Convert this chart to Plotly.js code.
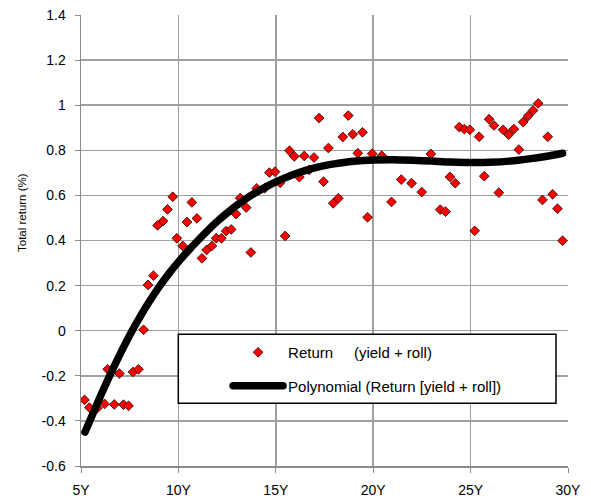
<!DOCTYPE html>
<html>
<head>
<meta charset="utf-8">
<script src="https://cdn.plot.ly/plotly-3.0.1.min.js"></script>
<style>
html,body{margin:0;padding:0;background:#fff;}
#chart{width:591px;height:501px;}
.scatterlayer .js-line, .legendlines path{stroke-linecap:round;}
</style>
</head>
<body>
<div id="chart"></div>
<script>
// Maturity (years) and total return (%) of each bond
const maturity = [5.18,5.43,5.84,6.21,6.37,6.71,6.97,7.18,7.44,7.67,
  7.95,8.21,8.44,8.72,8.93,9.21,9.44,9.71,9.92,10.22,
  10.44,10.69,10.95,11.21,11.45,11.72,11.94,12.21,12.45,12.71,
  12.96,13.17,13.48,13.72,14.02,14.43,14.67,14.96,15.22,15.48,
  15.70,15.95,16.21,16.46,16.71,16.96,17.22,17.45,17.70,17.95,
  18.21,18.44,18.72,18.95,19.21,19.45,19.71,19.95,20.44,20.94,
  21.44,21.97,22.49,22.96,23.44,23.71,23.94,24.21,24.42,24.68,
  24.96,25.21,25.44,25.70,25.95,26.20,26.45,26.67,26.95,27.22,
  27.48,27.70,27.95,28.21,28.47,28.69,28.96,29.21,29.46,29.72];
const totalReturn = [-0.307,-0.341,-0.343,-0.325,-0.171,-0.327,-0.190,-0.328,-0.333,-0.183,
  -0.171,0.004,0.203,0.244,0.467,0.486,0.538,0.594,0.410,0.376,
  0.482,0.569,0.498,0.321,0.358,0.376,0.410,0.410,0.442,0.449,
  0.517,0.588,0.546,0.347,0.631,0.632,0.701,0.705,0.656,0.420,
  0.798,0.773,0.681,0.775,0.713,0.768,0.943,0.661,0.810,0.565,
  0.587,0.859,0.954,0.871,0.787,0.880,0.503,0.785,0.776,0.571,
  0.670,0.654,0.615,0.784,0.537,0.528,0.682,0.654,0.903,0.894,
  0.891,0.443,0.860,0.685,0.938,0.910,0.612,0.891,0.869,0.894,
  0.803,0.925,0.952,0.977,1.008,0.580,0.860,0.605,0.541,0.399];

// Polynomial trendline
const trendX = [5.2,5.5,6,6.5,7,7.5,8,8.5,9,9.5,10,10.5,11,11.5,12,12.5,13,13.5,14,14.5,15,15.5,16,16.5,17,17.5,18,18.5,19,19.5,20,21,22,23,24,25,26,27,28,29,29.72];
const trendY = [-0.45,-0.39,-0.29,-0.195,-0.105,-0.02,0.057,0.128,0.193,0.252,0.305,0.354,0.40,0.444,0.485,0.522,0.556,0.587,0.614,0.638,0.66,0.679,0.696,0.71,0.722,0.732,0.74,0.746,0.751,0.755,0.757,0.758,0.756,0.752,0.748,0.746,0.747,0.752,0.762,0.775,0.787];

// Axis ticks
const xTickVals = [5,10,15,20,25,30];
const xTickText = ['5Y','10Y','15Y','20Y','25Y','30Y'];
const yTickVals = [-0.6,-0.4,-0.2,0,0.2,0.4,0.6,0.8,1,1.2,1.4];
const yTickText = ['-0.6','-0.4','-0.2','0','0.2','0.4','0.6','0.8','1','1.2','1.4'];

const seriesNames = ['Return\u00a0\u00a0\u00a0\u00a0\u00a0(yield + roll)', 'Polynomial (Return [yield + roll])'];
const yTitle = 'Total return (%)';

const FONT = 'Arial, "Liberation Sans", sans-serif';

const traces = [
  {
    x: maturity, y: totalReturn, type: 'scatter', mode: 'markers',
    name: seriesNames[0], legendgroup: 'a',
    marker: {symbol: 'diamond', size: 7.5, color: '#ff0000', line: {color: '#200000', width: 0.8}},
    hoverinfo: 'x+y'
  },
  {
    x: trendX, y: trendY, type: 'scatter', mode: 'lines',
    name: seriesNames[1], legendgroup: 'b',
    line: {color: '#000000', width: 7.5, shape: 'spline', smoothing: 0.8},
    hoverinfo: 'skip'
  }
];

const layout = {
  width: 591, height: 501,
  margin: {l: 81, r: 23, t: 15, b: 35},
  paper_bgcolor: '#ffffff', plot_bgcolor: '#ffffff',
  font: {family: FONT, size: 14, color: '#000'},
  showlegend: true,
  legend: {
    x: 0.302, xanchor: 'left', y: 0.2882, yanchor: 'top',
    bgcolor: 'rgba(0,0,0,0)', borderwidth: 0,
    font: {family: FONT, size: 15, color: '#000'},
    itemwidth: 50, traceorder: 'grouped', tracegroupgap: 11
  },
  xaxis: {
    range: [5, 30], tickvals: xTickVals, ticktext: xTickText,
    showgrid: true, gridcolor: '#a0a0a0', gridwidth: 1.5,
    showline: true, linecolor: '#8c8c8c', linewidth: 1.5,
    ticks: 'outside', ticklen: 5, tickcolor: '#8c8c8c',
    ticklabelstandoff: 6,
    zeroline: false, tickfont: {family: FONT, size: 14}
  },
  yaxis: {
    range: [-0.6, 1.4], tickvals: yTickVals, ticktext: yTickText,
    showgrid: true, gridcolor: '#a0a0a0', gridwidth: 1.5,
    showline: true, linecolor: '#8c8c8c', linewidth: 1.5,
    ticks: 'outside', ticklen: 5, tickcolor: '#8c8c8c',
    ticklabelstandoff: 6,
    zeroline: false, tickfont: {family: FONT, size: 14}
  },
  annotations: [
    {text: yTitle, xref: 'paper', yref: 'paper', x: -0.1211, y: 0.561,
     xanchor: 'center', yanchor: 'middle', textangle: -90, showarrow: false,
     font: {family: FONT, size: 11.5, color: '#000'}}
  ],
  shapes: [
    {type: 'rect', xref: 'paper', yref: 'paper', layer: 'above',
     x0: 0.1998, x1: 0.9754, y0: 0.139, y1: 0.292,
     fillcolor: '#ffffff', line: {color: '#000000', width: 1.5}}
  ]
};

Plotly.newPlot('chart', traces, layout, {displayModeBar: false, staticPlot: true});
</script>
</body>
</html>
